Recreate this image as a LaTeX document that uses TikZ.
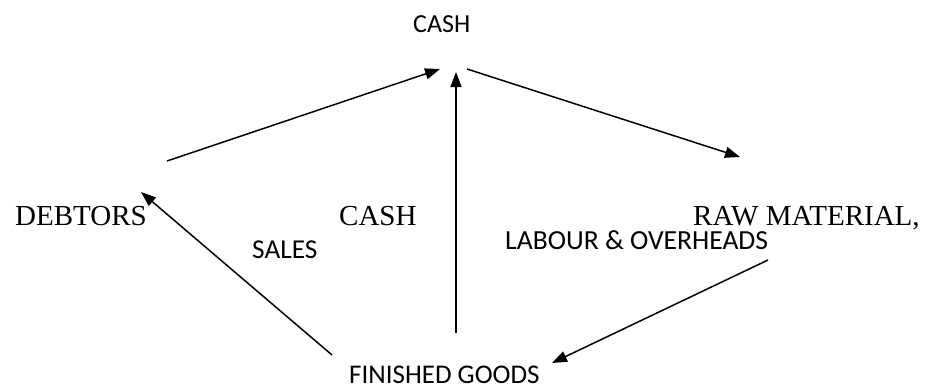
\documentclass[tikz,border=0pt]{standalone}
\usepackage{fontspec}
\setmainfont{Liberation Serif}
\newfontfamily\calib{Carlito}
\usetikzlibrary{arrows.meta}
\begin{document}
\begin{tikzpicture}[x=1pt,y=-1pt,
  serifbig/.style={inner sep=0pt,anchor=base west,font=\fontsize{29}{33}\selectfont},
  sanslab/.style={inner sep=0pt,anchor=base west,font=\calib\fontsize{#1}{30}\selectfont},
  sanslab/.default=27,
  flow/.style={line width=1.5pt,-{Triangle[length=15pt,width=11pt]}}]
\useasboundingbox (0,0) rectangle (933,389);
\node[sanslab=26] (cashtop) at (413,32) {CASH};
\node[serifbig] (debtors) at (15,225) {DEBTORS};
\node[serifbig] (cashmid) at (339,225) {CASH};
\node[serifbig] (raw) at (693,225) {RAW MATERIAL,};
\node[sanslab=27.3] (sales) at (252,258) {SALES};
\node[sanslab=27.6] (labour) at (505,249) {LABOUR \& OVERHEADS};
\node[sanslab=27] (fg) at (349,383) {FINISHED GOODS};
\coordinate (a1s) at (167,161); \coordinate (a1e) at (440,69);
\coordinate (a2s) at (456,333); \coordinate (a2e) at (456,72);
\coordinate (a3s) at (467,69);  \coordinate (a3e) at (740,157);
\coordinate (a4s) at (768,260); \coordinate (a4e) at (552,363);
\coordinate (a5s) at (332,355); \coordinate (a5e) at (141,192);
\draw[flow] (a1s) -- (a1e);
\draw[flow] (a2s) -- (a2e);
\draw[flow] (a3s) -- (a3e);
\draw[flow] (a4s) -- (a4e);
\draw[flow] (a5s) -- (a5e);
\end{tikzpicture}
\end{document}
